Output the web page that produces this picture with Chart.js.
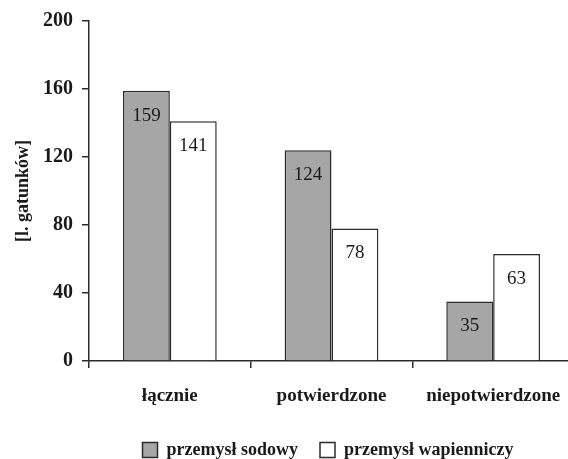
<!DOCTYPE html>
<html><head><meta charset="utf-8">
<script src="https://cdn.jsdelivr.net/npm/chart.js@4"></script>
<style>html,body{margin:0;padding:0;overflow:hidden;background:#fff;width:568px;height:459px}#wrap{width:580px;height:459px}</style>
</head><body><div id="wrap"><canvas id="c" width="580" height="459"></canvas></div>
<script>
const categories = ['łącznie', 'potwierdzone', 'niepotwierdzone'];
const sodowy = [159, 124, 35];
const wapienniczy = [141, 78, 63];
const seriesNames = ['przemysł sodowy', 'przemysł wapienniczy'];
const yTicks = [0, 40, 80, 120, 160, 200];

const FONT = "'Liberation Serif', 'Times New Roman', serif";
const INK = '#1a1a1a';

const valueLabels = {
  id: 'valueLabels',
  afterDatasetsDraw(chart) {
    const ctx = chart.ctx;
    ctx.save();
    ctx.font = '19px ' + FONT;
    ctx.fillStyle = INK;
    ctx.textAlign = 'center';
    ctx.textBaseline = 'middle';
    chart.data.datasets.forEach((ds, i) => {
      chart.getDatasetMeta(i).data.forEach((bar, j) => {
        ctx.fillText(String(ds.data[j]), bar.x, bar.y + 25);
      });
    });
    ctx.restore();
  }
};

const legendShift = {
  id: 'legendShift',
  beforeDraw(chart) {
    const lg = chart.legend;
    if (lg && !lg._shifted) {
      lg.left += 41; lg.right += 41;
      lg.top += 10; lg.bottom += 10;
      lg._shifted = true;
    }
  }
};

new Chart(document.getElementById('c'), {
  type: 'bar',
  data: {
    labels: categories,
    datasets: [
      { label: seriesNames[0], data: sodowy, backgroundColor: '#a6a6a6', borderColor: '#2b2b2b', borderWidth: 1.5, barPercentage: 1, categoryPercentage: 0.58 },
      { label: seriesNames[1], data: wapienniczy, backgroundColor: '#ffffff', borderColor: '#2b2b2b', borderWidth: 1.5, barPercentage: 1, categoryPercentage: 0.58 }
    ]
  },
  options: {
    responsive: false,
    animation: false,
    devicePixelRatio: 1,
    layout: { padding: { left: 0, right: 6, top: 20, bottom: 0 } },
    plugins: {
      tooltip: { enabled: false },
      legend: {
        position: 'bottom',
        labels: {
          font: { family: FONT, size: 18, weight: 'bold' },
          color: INK,
          boxWidth: 15, boxHeight: 15,
          padding: 22
        }
      }
    },
    scales: {
      x: {
        offset: true,
        grid: { display: true, offset: true, drawOnChartArea: false, tickLength: 7, color: '#2b2b2b', lineWidth: 1.5 },
        border: { display: true, color: '#2b2b2b', width: 1.5 },
        ticks: { font: { family: FONT, size: 19, weight: 'bold' }, color: INK, padding: 17 },
        afterFit(s) { s.height = 48; }
      },
      y: {
        min: 0, max: 200,
        afterBuildTicks(s) { s.ticks = yTicks.map(v => ({ value: v })); },
        grid: { display: true, drawOnChartArea: false, tickLength: 7, color: '#2b2b2b', lineWidth: 1.5 },
        border: { display: true, color: '#2b2b2b', width: 1.5 },
        ticks: { font: { family: FONT, size: 20, weight: 'bold' }, color: INK, padding: 9 },
        title: { display: true, text: '[l. gatunków]', font: { family: FONT, size: 18, weight: 'bold' }, color: INK, padding: { top: 13, bottom: 4 } },
        afterFit(s) { s.width = 89; }
      }
    }
  },
  plugins: [valueLabels, legendShift]
});
</script>
</body></html>
